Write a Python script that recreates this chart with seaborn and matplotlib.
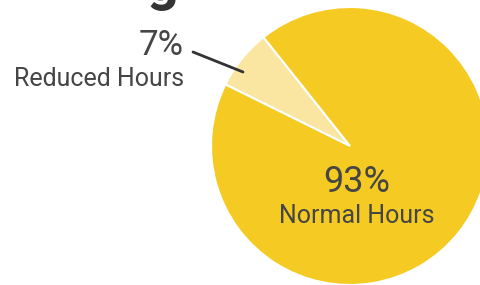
import matplotlib
matplotlib.use("Agg")
import matplotlib.pyplot as plt
from matplotlib.lines import Line2D
import seaborn as sns

# data
categories = ["Reduced Hours", "Normal Hours"]
shares = [7, 93]
colors = ["#FAE6A0", "#F5CB23"]

sns.set_theme(style="white")
plt.rcParams['font.family'] = ['Roboto', 'DejaVu Sans']
text_color = "#454545"

W, H = 481, 285
fig = plt.figure(figsize=(W / 100, H / 100), dpi=100)

# pie axes: centre ~ (350, 146) px, radius ~139 px
cx, cy, r = 350, 146, 139
ax = fig.add_axes([(cx - r) / W, (H - cy - r) / H, 2 * r / W, 2 * r / H])
ax.pie(shares, colors=colors, startangle=128.5, counterclock=True,
       wedgeprops=dict(edgecolor="white", linewidth=1.5))
ax.set_xlim(-1, 1)
ax.set_ylim(-1, 1)
ax.set_aspect("equal")
ax.axis("off")


def fx(x):
    return x / W


def fy(y):
    return 1 - y / H


# cropped title glyph at the top
fig.text(fx(146), fy(0), "g", fontsize=40, fontweight="bold",
         color="#333333", ha="left", va="baseline")

# small slice label with leader line
fig.text(fx(184), fy(55), f"{shares[0]}%", fontsize=25, color=text_color,
         ha="right", va="baseline")
fig.text(fx(184), fy(86), categories[0], fontsize=18, color=text_color,
         ha="right", va="baseline")
fig.add_artist(Line2D([fx(193), fx(243)], [fy(52), fy(72)],
                      color="#333333", linewidth=2, transform=fig.transFigure))

# large slice label
fig.text(fx(357), fy(192), f"{shares[1]}%", fontsize=26, color=text_color,
         ha="center", va="baseline")
fig.text(fx(357), fy(223), categories[1], fontsize=18, color=text_color,
         ha="center", va="baseline")

fig.savefig("out.png", dpi=100)
